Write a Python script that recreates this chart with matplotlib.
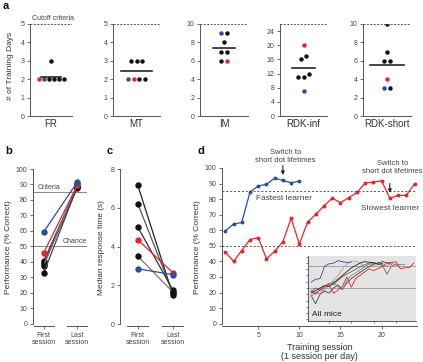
import numpy as np
import matplotlib
matplotlib.use("Agg")
import matplotlib.pyplot as plt

plt.rcParams['font.family'] = ['Liberation Sans', 'DejaVu Sans']

RED = '#e8232a'
BLUE = '#2d4d9e'
BLK = '#111111'
TXT = '#444444'
SPINE = '#555555'
MOUSE_COL = {'r': RED, 'b': BLUE, 'k': BLK}

# ---- panel a: days to criterion per training stage ----
stages = ['FR', 'MT', 'IM', 'RDK-inf', 'RDK-short']
days_fr = [2, 2, 2, 2, 2, 2, 3]
mice_fr = ['r', 'b', 'k', 'k', 'k', 'k', 'k']
days_mt = [2, 2, 2, 2, 3, 3, 3]
mice_mt = ['b', 'r', 'k', 'k', 'k', 'k', 'k']
days_im = [9, 9, 8, 7, 7, 6, 6]
mice_im = ['b', 'k', 'k', 'k', 'k', 'k', 'r']
days_inf = [20, 16, 17, 11, 11, 12, 7]
mice_inf = ['r', 'k', 'k', 'k', 'k', 'k', 'b']
days_short = [10, 7, 6, 6, 4, 3, 3]
mice_short = ['k', 'k', 'k', 'k', 'r', 'b', 'k']
cutoff = [5, 5, 10, 26, 10]
yticks_a = [range(0, 6), range(0, 6), range(0, 11, 2), range(0, 25, 4), range(0, 11, 2)]

# ---- panel b/c: first vs last session ----
sess_labels = ['First\nsession', 'Last\nsession']
b_mice = ['k', 'k', 'k', 'k', 'k', 'r', 'b']
b_first = [40.5, 39.5, 38.5, 37.5, 33, 46, 59.5]
b_last = [88.5, 89, 88, 90, 88.5, 89.5, 91.5]
c_mice = ['k', 'k', 'k', 'k', 'r', 'b']
c_first = [7.15, 6.2, 5.0, 3.5, 4.35, 2.85]
c_last = [1.5, 1.6, 1.75, 1.65, 2.65, 2.55]
line_greys = ['#222222', '#555555', '#333333', '#777777', '#444444']

# ---- panel d: learning curves ----
fast = [59.5, 64, 65, 84.5, 88.5, 89.5, 93.5, 92, 90.5, 91.5]
slow = [46, 40, 47, 54, 55.3, 41.7, 46.5, 52.7, 67.7, 51.2, 65.2, 70.3,
        75.7, 80.6, 77.8, 80.9, 84.3, 90.3, 91, 91.8, 80.6, 82.4, 82.4, 89.9]
fast_switch, slow_switch = 8, 21
others = [
    [40, 42, 48, 45, 55, 62, 70, 80, 88, 92, 93, 89, 84, 88, 86, 88],
    [38, 25, 40, 45, 42, 50, 55, 48, 58, 65, 70, 75, 80, 84, 88, 90, 92, 90, 88],
    [44, 50, 46, 52, 58, 55, 62, 68, 72, 76, 80, 84, 87, 90, 91, 88, 86, 72, 85, 88, 87],
    [36, 44, 40, 50, 56, 60, 52, 47, 62, 70, 74, 79, 84, 88, 90, 89, 87, 85, 90, 86, 88, 87],
    [42, 46, 50, 54, 52, 58, 64, 70, 76, 82, 86, 90, 92, 91, 90, 88, 89],
]
other_greys = ['#a8a8a8', '#444444', '#666666', '#888888', '#222222']

W, H = 423, 362
fig = plt.figure(figsize=(W / 100, H / 100), dpi=100)


def box(l, t, r, b):
    return [l / W, 1 - b / H, (r - l) / W, (b - t) / H]


def style(ax, fs=5):
    for s in ['top', 'right']:
        ax.spines[s].set_visible(False)
    for s in ['left', 'bottom']:
        ax.spines[s].set_color(SPINE)
        ax.spines[s].set_linewidth(0.7)
    ax.tick_params(labelsize=fs, colors=SPINE, labelcolor=TXT, length=2.5,
                   width=0.6, pad=1.5)


def swarm(vals, tol):
    # place near-equal values side by side, in list order
    xs = np.zeros(len(vals))
    i = 0
    while i < len(vals):
        j = i + 1
        while j < len(vals) and abs(vals[j] - vals[i]) <= tol:
            j += 1
        n = j - i
        xs[i:j] = np.arange(n) - (n - 1) / 2
        i = j
    return xs


a_boxes = [(30, 24, 72, 116), (113, 24, 160, 116), (200, 24, 248, 116),
           (280, 24, 327, 116), (363, 24, 411, 116)]
a_days = [days_fr, days_mt, days_im, days_inf, days_short]
a_mice = [mice_fr, mice_mt, mice_im, mice_inf, mice_short]
mean_half = [2.0, 2.7, 2.0, 2.0, 2.9]

for k in range(5):
    ax = fig.add_axes(box(*a_boxes[k]))
    style(ax)
    vals = np.array(a_days[k], float)
    xs = swarm(vals, cutoff[k] * 4.5 / 92)
    for x, v, m in zip(xs, vals, a_mice[k]):
        ax.plot(x, v, 'o', ms=3.2, color=MOUSE_COL[m], mec='none')
    mu = vals.mean()
    ax.plot([-mean_half[k], mean_half[k]], [mu, mu], color=BLK, lw=1.1)
    ax.axhline(cutoff[k], color='#555555', lw=0.7, ls=(0, (2, 1.5)))
    ax.set_xlim(-4.2, 4.2)
    ax.set_ylim(0, cutoff[k])
    ax.set_yticks(list(yticks_a[k]))
    ax.set_xticks([])
    ax.set_xlabel(stages[k], fontsize=7, color='#333333', labelpad=2)
    if k == 0:
        ax.text(0.55, 1.02, 'Cutoff criteria', transform=ax.transAxes,
                ha='center', va='bottom', fontsize=5, color=TXT)

fig.text(10 / W, 1 - 66 / H, '# of Training Days', rotation=90,
         ha='center', va='center', fontsize=6, color='#333333')


def first_last(ax, first, last, mice, ms):
    g = 0
    for f, l, m in zip(first, last, mice):
        if m == 'k':
            lc = line_greys[g % len(line_greys)]
            g += 1
        else:
            lc = MOUSE_COL[m]
        ax.plot([0, 1], [f, l], '-', color=lc, lw=0.9)
        ax.plot([0, 1], [f, l], 'o', ms=ms, color=MOUSE_COL[m], mec='none')


def cat_axis(ax, ybot):
    ax.spines['bottom'].set_visible(False)
    ax.set_xticks([0, 1])
    ax.set_xticklabels(sess_labels, fontsize=5, color=TXT, linespacing=1.1)
    for t in [0, 1]:
        ax.plot([t - 0.3, t + 0.3], [ybot, ybot], color=SPINE, lw=0.7,
                clip_on=False)


# ---- b ----
axb = fig.add_axes(box(33, 169, 87, 326))
style(axb)
axb.axhline(85, color='#888888', lw=0.7)
axb.axhline(50, color='#888888', lw=0.7)
axb.text(0.08, 86, 'Criteria', fontsize=5, color=TXT, va='bottom', ha='left',
         transform=axb.get_yaxis_transform())
axb.text(1.0, 51, 'Chance', fontsize=5, color=TXT, va='bottom', ha='right',
         transform=axb.get_yaxis_transform())
first_last(axb, b_first, b_last, b_mice, 4.6)
axb.set_xlim(-0.32, 1.29)
axb.set_ylim(-1.3, 100)
axb.spines['left'].set_bounds(0, 100)
axb.set_yticks(range(0, 101, 10))
cat_axis(axb, -1.3)
axb.set_ylabel('Performance (% Correct)', fontsize=6, color='#333333', labelpad=3)

# ---- c ----
axc = fig.add_axes(box(120, 169, 182, 326))
style(axc)
first_last(axc, c_first, c_last, c_mice, 4.6)
axc.set_xlim(-0.51, 1.26)
axc.set_ylim(-0.1, 8)
axc.spines['left'].set_bounds(0, 8)
axc.set_yticks(range(0, 9, 2))
cat_axis(axc, -0.1)
axc.set_ylabel('Median response time (s)', fontsize=6, color='#333333', labelpad=4)

# ---- d ----
axd = fig.add_axes(box(222, 168, 417, 326))
style(axd)
axd.axhline(85, color='#555555', lw=0.7, ls=(0, (2, 2)))
axd.axhline(50, color='#555555', lw=0.7, ls=(0, (2, 2)))
xf = np.arange(1, len(fast) + 1)
xs_ = np.arange(1, len(slow) + 1)
axd.plot(xf, fast, '-o', color=BLUE, lw=0.9, ms=2.8, mec='none')
axd.plot(xs_, slow, '-o', color=RED, lw=0.9, ms=2.8, mec='none')
axd.set_xlim(0.6, 24.3)
axd.set_ylim(-1.5, 100)
axd.spines['left'].set_bounds(0, 100)
axd.set_yticks(range(0, 101, 10))
axd.set_xticks([5, 10, 15, 20])
axd.set_ylabel('Performance (% Correct)', fontsize=6, color='#333333', labelpad=3)
axd.set_xlabel('Training session\n(1 session per day)', fontsize=6.5,
               color='#333333', labelpad=3, linespacing=1.1)
for xsw, yt, ya in [(fast_switch, 107.5, 101.5), (slow_switch, 100.3, 90)]:
    axd.text(xsw + 0.3, yt, 'Switch to\nshort dot lifetimes', ha='center',
             va='center', fontsize=5.5, color=TXT, linespacing=1.1, clip_on=False)
    axd.annotate('', xy=(xsw, ya - 6), xytext=(xsw, ya),
                 arrowprops=dict(arrowstyle='-|>', color='#222222', lw=0.8,
                                 mutation_scale=5, shrinkA=0, shrinkB=0),
                 annotation_clip=False)
axd.text(4.7, 80.6, 'Fastest learner', fontsize=6, color=TXT, va='center')
axd.text(17.5, 74.2, 'Slowest learner', fontsize=6, color=TXT, va='center')

# ---- inset: all mice ----
axi = fig.add_axes(box(308, 256, 416, 321))
axi.set_facecolor('#e4e4e4')
for s in ['top', 'right']:
    axi.spines[s].set_visible(False)
for s in ['left', 'bottom']:
    axi.spines[s].set_color('#444444')
    axi.spines[s].set_linewidth(0.6)
axi.tick_params(length=1.5, width=0.5, colors='#444444', labelleft=False,
                labelbottom=False)
axi.axhline(85, color='#9a9a9a', lw=0.6)
axi.axhline(50, color='#9a9a9a', lw=0.6)
for vals, c in zip(others, other_greys):
    axi.plot(np.arange(1, len(vals) + 1), vals, color=c, lw=0.6)
axi.plot(xf, fast, color=BLUE, lw=0.6)
axi.plot(xs_, slow, color=RED, lw=0.6)
axi.set_xlim(0.3, 24.5)
axi.set_ylim(-2.5, 101)
axi.set_yticks(range(0, 101, 10))
axi.set_xticks([5, 10, 15, 20])
axi.text(0.04, 0.05, 'All mice', transform=axi.transAxes, fontsize=6,
         color='#222222', ha='left', va='bottom')

# panel letters
for ch, x, y in [('a', 3, 6), ('b', 5, 151), ('c', 107, 151), ('d', 197, 151)]:
    fig.text(x / W, 1 - y / H, ch, fontsize=8, fontweight='bold',
             ha='left', va='center', color='#111111')

fig.savefig('out.png', dpi=100)
